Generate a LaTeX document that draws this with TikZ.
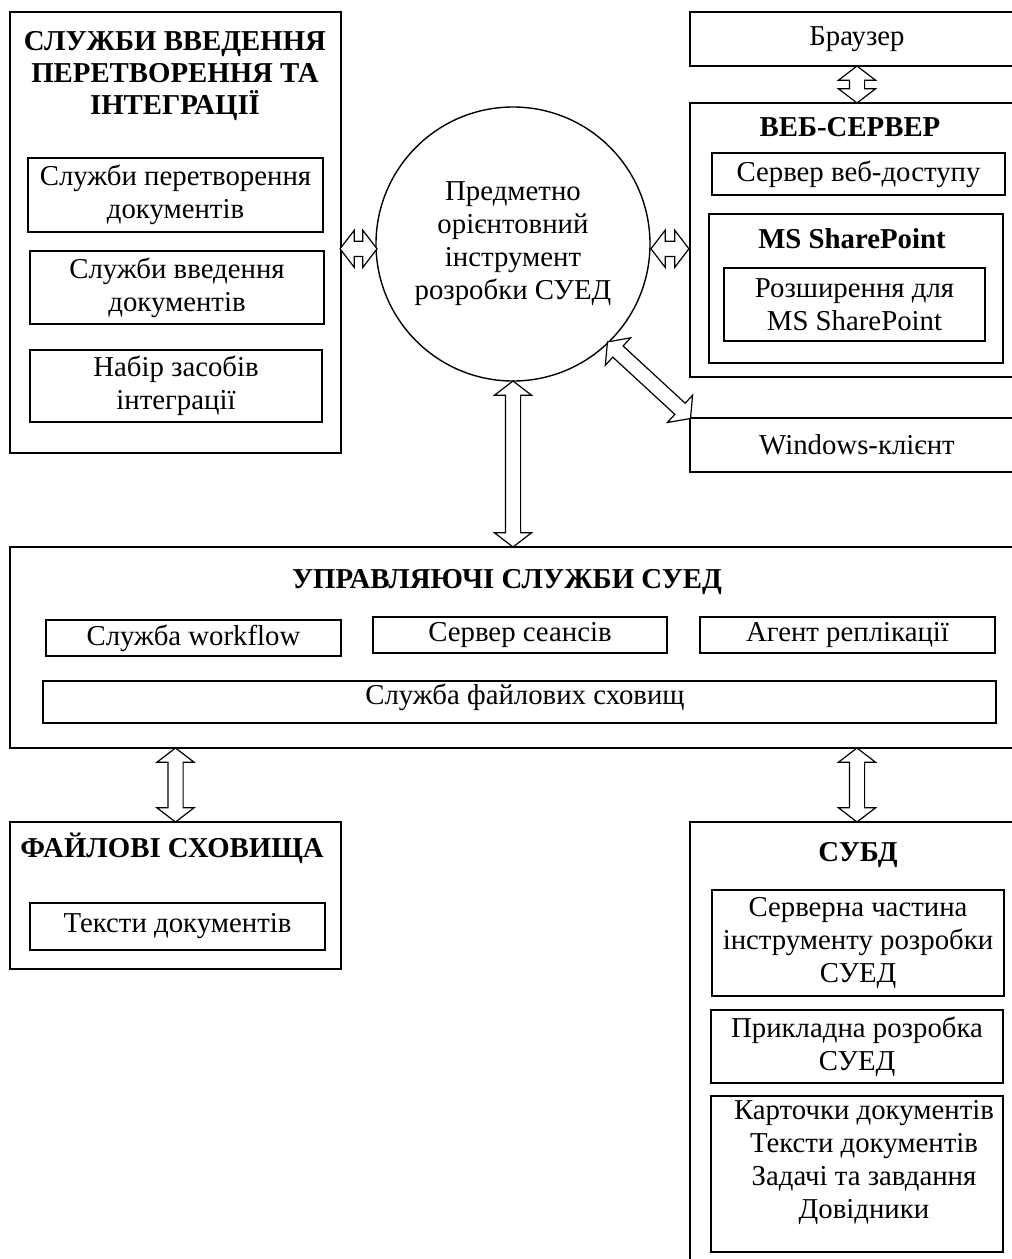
\documentclass[tikz,border=0pt]{standalone}
\usepackage{fontspec}
\setmainfont{Liberation Serif}
\usetikzlibrary{shapes.geometric}
\usetikzlibrary{shapes.arrows}
\usetikzlibrary{fit}
\usetikzlibrary{calc}

\begin{document}
\begin{tikzpicture}[x=0.5pt, y=-0.5pt,
      every node/.style={align=center, font=\fontsize{14.4}{16.5}\selectfont},
      box/.style={shape=rectangle, draw, line width=0.7pt, inner sep=0pt},
      boxtext/.style={label={center:#1}},
      title/.style={font=\fontsize{14.4}{16}\selectfont\bfseries},
      dblarr/.style={double arrow, draw, fill=white, line width=0.6pt,
        inner sep=3.5pt, minimum width=0pt,
        double arrow head extend=5.5pt, double arrow tip angle=105}]
    \useasboundingbox (0,0) rectangle (1012,1259);

    % left block: input, conversion and integration
    \node [box, fit={(10,12) (341,453)}] (intg) {};
    \node [title] at (175,76) {СЛУЖБИ ВВЕДЕННЯ\\ПЕРЕТВОРЕННЯ ТА\\ІНТЕГРАЦІЇ};
    \node [box, fit={(28,158) (323,232)}, boxtext={Служби перетворення\\документів}] (conv) {};
    \node [box, fit={(30,251) (324,324)}, boxtext={Служби введення\\документів}] (input) {};
    \node [box, fit={(30,350) (322,422)}, boxtext={Набір засобів\\інтеграції}] (tools) {};

    % the development tool in the middle
    \node [shape=circle, draw, line width=0.7pt, minimum size=137pt, inner sep=0pt]
      (circ) at (513,244) {Предметно\\орієнтовний\\інструмент\\розробки СУЕД};

    % right column: browser, web server, client
    \node [box, fit={(690,12) (1024,66)}, boxtext={Браузер}] (browser) {};
    \node [box, fit={(690,103) (1024,377)}] (web) {};
    \node [title] at (850,127) {ВЕБ-СЕРВЕР};
    \node [box, fit={(712,153) (1005,195)}, boxtext={Сервер веб-доступу}] (access) {};
    \node [box, fit={(709,214) (1003,363)}] (sp) {};
    \node [title] at (852,239) {MS SharePoint};
    \node [box, fit={(724,268) (985,341)}, boxtext={Розширення для\\MS SharePoint}] (ext) {};
    \node [box, fit={(690,418) (1024,472)}, boxtext={Windows-клієнт}] (client) {};

    % management services
    \node [box, fit={(10,547) (1024,748)}] (mgmt) {};
    \node [title] at (507,582) {УПРАВЛЯЮЧІ СЛУЖБИ СУЕД};
    \node [box, fit={(46,620) (341,656)}, boxtext={Служба workflow}] (wf) {};
    \node [box, fit={(373,617) (667,653)}, boxtext={Сервер сеансів}] (sess) {};
    \node [box, fit={(700,617) (995,653)}, boxtext={Агент реплікації}] (repl) {};
    \node [box, fit={(43,681) (996,723)}] (store) {};
    \node at (525,697) {Служба файлових сховищ};

    % file storages
    \node [box, fit={(10,822) (341,969)}] (files) {};
    \node [title] at (172,848) {ФАЙЛОВІ СХОВИЩА};
    \node [box, fit={(30,903) (325,950)}, boxtext={Тексти документів}] (texts) {};

    % database
    \node [box, fit={(690,822) (1024,1275)}] (dbms) {};
    \node [title] at (858,855) {СУБД};
    \node [box, fit={(712,890) (1004,996)},
      boxtext={Серверна частина\\інструменту розробки\\СУЕД}] (srv) {};
    \node [box, fit={(711,1010) (1003,1083)}, boxtext={Прикладна розробка\\СУЕД}] (app) {};
    \node [box, fit={(711,1096) (1003,1252)}] (cards) {};
    \node at (864,1163) {Карточки документів\\Тексти документів\\Задачі та завдання\\Довідники};

    % two-way block arrows
    \node [dblarr, rotate=90, minimum height=18.5pt]
      at ($(browser.south)!.5!(web.north)$) {};
    \node [dblarr, minimum height=18.5pt]
      at ($(intg.east |- circ.182.5)!.5!(circ.182.5)$) {};
    \node [dblarr, minimum height=19pt]
      at ($(circ.-2.5)!.5!(web.west |- circ.-2.5)$) {};
    \node [dblarr, rotate=90, minimum height=83pt]
      at ($(circ.south)!.5!(circ.south |- mgmt.north)$) {};
    \node [dblarr, rotate=-42.7, minimum height=56.5pt]
      at ($(circ.-46)!.5!(client.north west)$) {};
    \node [dblarr, rotate=90, minimum height=37pt]
      at ($(files.north |- mgmt.south)!.5!(files.north)$) {};
    \node [dblarr, rotate=90, minimum height=37pt]
      at ($(dbms.north |- mgmt.south)!.5!(dbms.north)$) {};
\end{tikzpicture}
\end{document}
